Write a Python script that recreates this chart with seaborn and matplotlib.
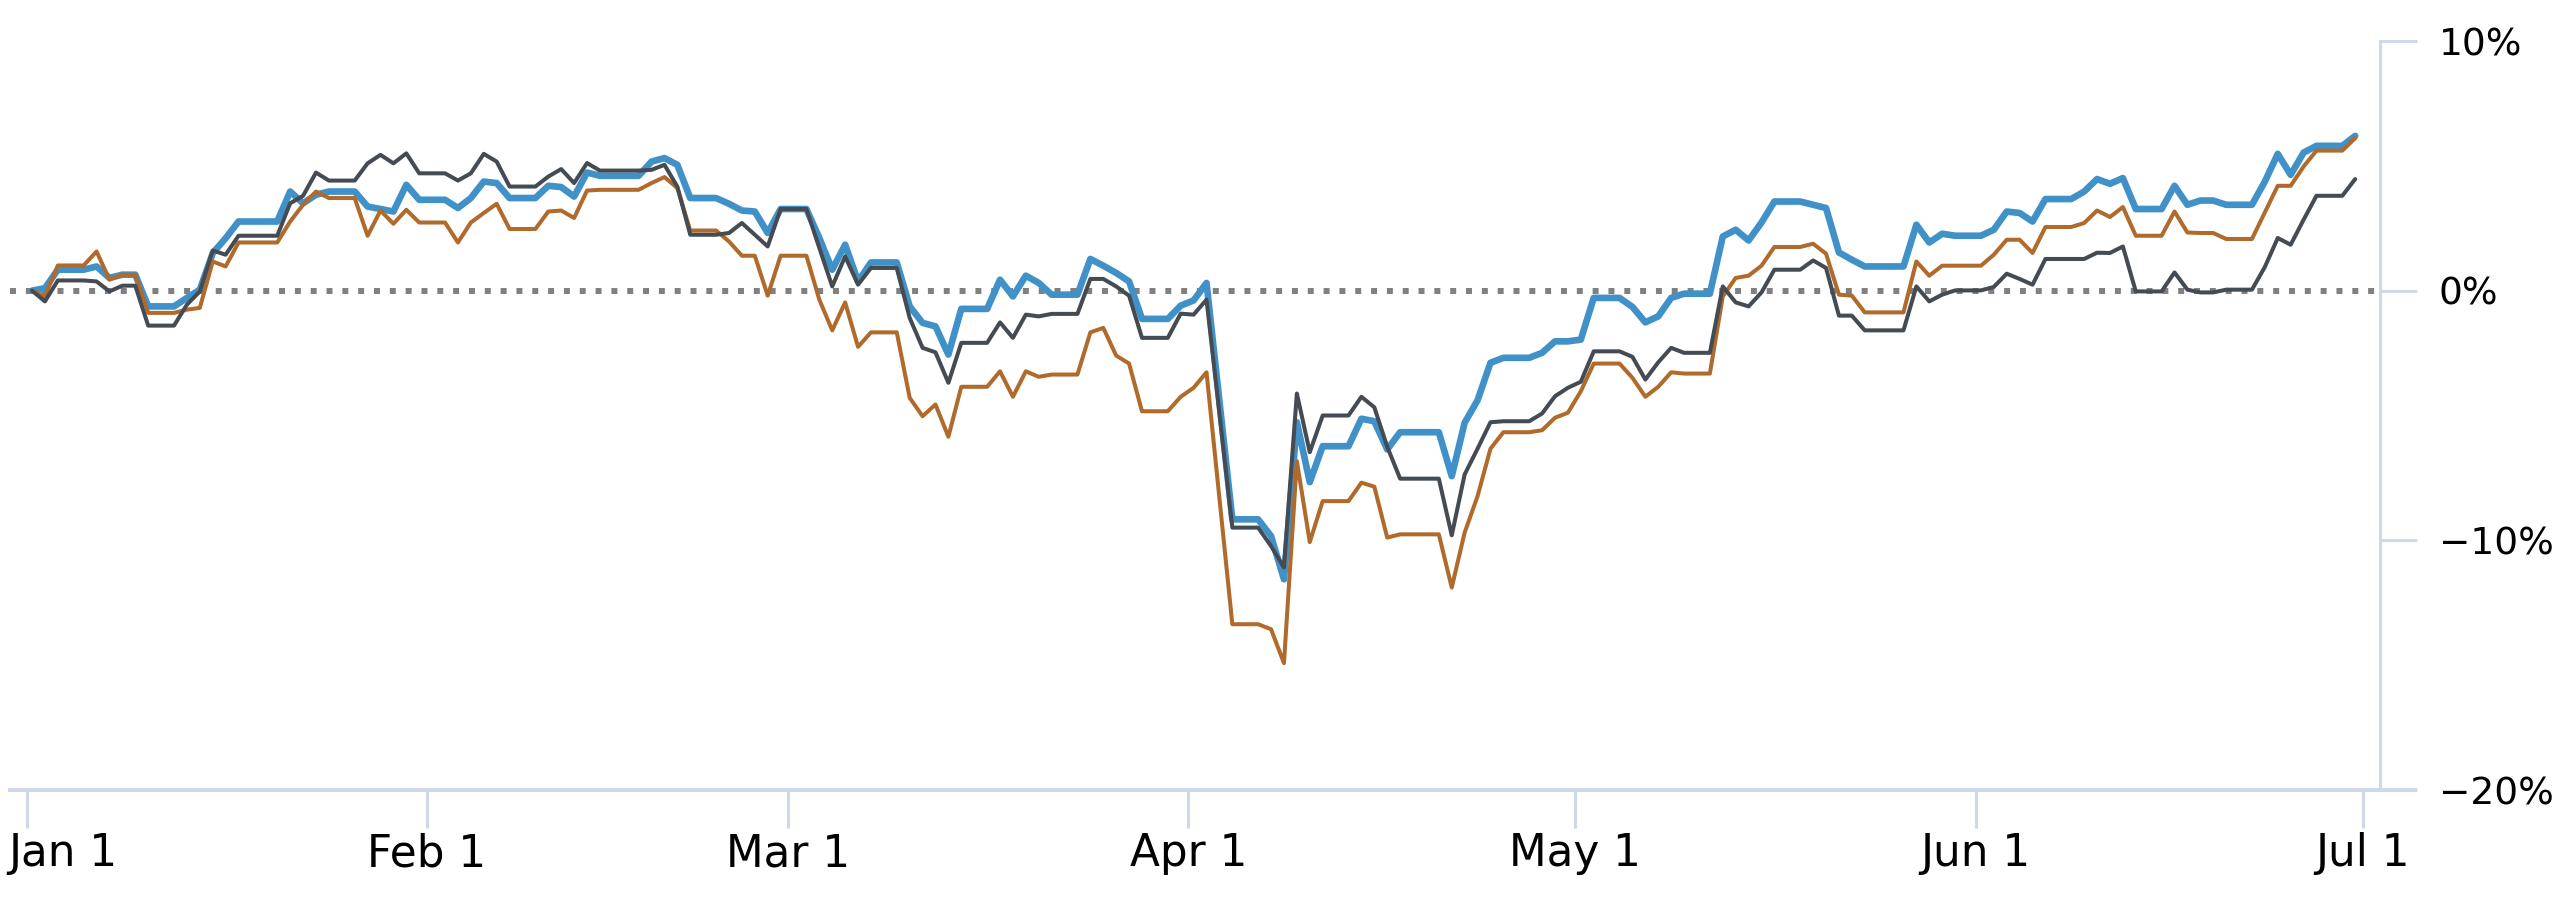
import matplotlib
matplotlib.use("Agg")
import matplotlib.pyplot as plt
import matplotlib.dates as mdates
from matplotlib.ticker import FuncFormatter
from matplotlib.transforms import ScaledTranslation
import pandas as pd
import seaborn as sns

sns.set_style("white")
plt.rcParams["font.family"] = ["DejaVu Sans"]

# market closed on these days -> value is carried over
holidays = ["2025-01-09", "2025-01-20", "2025-02-17", "2025-04-18", "2025-05-26", "2025-06-19"]

# % change since start of year, one value per trading day (Jan 1 = base)
blue_vals = [
    0.00, 0.10, 0.84, 0.97, 0.51, 0.64, -0.63, -0.29, 0.04, 1.50, 2.10, 2.77, 3.97, 3.50, 3.84, 3.97, 3.37, 3.27, 3.17, 4.24, 3.64,
    3.31, 3.71, 4.37, 4.31, 3.71, 4.20, 4.15, 3.77, 4.73, 4.60, 5.17, 5.31, 5.04, 3.71, 3.48, 3.21, 3.17, 2.31, 3.27,
    2.11, 0.84, 1.84, 0.37, 1.13, -0.63, -1.29, -1.43, -2.56, -0.73, 0.44, -0.23, 0.60, 0.31, -0.16, 1.27, 1.00, 0.71, 0.37, -1.13, -0.60,
    -0.39, 0.31, -4.43, -9.16, -9.83, -11.56, -5.27, -7.67, -6.23, -5.13, -5.23, -6.36, -5.67, -7.43, -5.29, -4.39, -2.89, -2.69, -2.49, -2.03, -2.03,
    -1.96, -0.29, -0.65, -1.27, -1.03, -0.29, -0.12, 2.17, 2.44, 2.01, 2.73, 3.57, 3.44, 3.31, 1.53, 1.24, 0.97, 2.64, 1.93, 2.28, 2.20,
    2.44, 3.17, 3.11, 2.77, 3.67, 3.97, 4.47, 4.28, 4.51, 3.27, 4.20, 3.44, 3.61, 3.44, 4.37, 5.48, 4.64, 5.53, 5.80, 6.20,
]
orange_vals = [
    0.00, -0.23, 1.01, 1.57, 0.44, 0.64, -0.89, -0.76, -0.69, 1.17, 0.97, 1.93, 2.77, 3.44, 3.97, 3.71, 2.20, 3.21, 2.68, 3.24, 2.73,
    1.93, 2.73, 3.11, 3.48, 2.47, 3.17, 3.21, 2.91, 4.01, 4.04, 4.31, 4.55, 4.11, 2.41, 1.97, 1.40, 1.40, -0.20, 1.40,
    -0.36, -1.59, -0.47, -2.25, -1.67, -4.29, -5.03, -4.56, -5.85, -3.85, -3.23, -4.25, -3.23, -3.45, -3.36, -1.67, -1.49, -2.60, -2.92, -4.83, -4.25,
    -3.89, -3.27, -8.31, -13.36, -13.56, -14.92, -6.83, -10.07, -8.43, -7.69, -7.85, -9.89, -9.76, -11.89, -9.69, -8.23, -6.33, -5.67, -5.59, -5.09, -4.89,
    -4.03, -2.92, -3.49, -4.25, -3.85, -3.27, -3.32, -0.23, 0.51, 0.60, 1.00, 1.75, 1.88, 1.48, -0.16, -0.20, -0.87, 1.17, 0.60, 1.00, 1.00,
    1.44, 2.04, 2.04, 1.51, 2.55, 2.71, 3.21, 2.95, 3.35, 2.20, 3.17, 2.33, 2.31, 2.07, 3.13, 4.20, 4.20, 4.97, 5.61, 6.11,
]
gray_vals = [
    0.00, -0.43, 0.41, 0.37, -0.03, 0.20, -1.40, -0.56, -0.03, 1.61, 1.44, 2.20, 3.50, 3.80, 4.73, 4.41, 5.10, 5.44, 5.10, 5.50, 4.70,
    4.41, 4.70, 5.48, 5.17, 4.17, 4.57, 4.87, 4.31, 5.11, 4.81, 4.84, 5.04, 4.17, 2.24, 2.31, 2.71, 2.24, 1.77, 3.27,
    1.71, 0.17, 1.37, 0.24, 0.91, -1.09, -2.29, -2.47, -3.69, -2.09, -1.27, -1.89, -0.96, -1.03, -0.93, 0.47, 0.47, 0.17, -0.20, -1.89, -0.92,
    -0.96, -0.36, -4.92, -9.49, -10.23, -11.09, -4.12, -6.47, -5.00, -4.25, -4.67, -6.25, -7.53, -9.80, -7.36, -6.33, -5.27, -5.23, -4.92, -4.23, -3.89,
    -3.65, -2.43, -2.65, -3.56, -2.87, -2.29, -2.49, 0.17, -0.47, -0.63, -0.07, 0.84, 1.21, 0.91, -1.00, -1.00, -1.59, 0.17, -0.43, -0.16, 0.01,
    0.15, 0.68, 0.47, 0.24, 1.27, 1.27, 1.52, 1.51, 1.77, -0.03, 0.73, 0.04, -0.07, 0.04, 0.95, 2.11, 1.84, 2.84, 3.80, 4.47,
]

y_ticks = [-20, -10, 0, 10]
month_ticks = pd.date_range("2025-01-01", "2025-07-01", freq="MS")
month_labels = [f"{d:%b} {d.day}" for d in month_ticks]

days = pd.bdate_range("2025-01-01", "2025-06-30", freq="C", holidays=holidays)
df = pd.DataFrame({"blue": blue_vals, "orange": orange_vals, "gray": gray_vals}, index=days)
# calendar days, weekends and holidays keep the last close
df = df.reindex(pd.date_range("2025-01-01", "2025-06-30")).ffill()
df.index = df.index + pd.Timedelta(hours=10)
df.index.name = "date"
df = df.reset_index()

W, H = 2560, 905
fig = plt.figure(figsize=(W / 100, H / 100), dpi=100)
ax = fig.add_axes([10 / W, 115 / H, 2405 / W, 749 / H])

axis_col = "#cfd8ea"
jan1 = pd.Timestamp("2025-01-01")
x0 = jan1 - pd.Timedelta(days=1.29)
x1 = jan1 + pd.Timedelta(days=185.05)
yaxis_at = pd.Timestamp("2025-07-01") + pd.Timedelta(days=1.32)

ax.axhline(0, xmin=0, xmax=(yaxis_at - x0) / (x1 - x0), color="#808080",
           lw=4.3, ls=(0, (1, 1.65)), zorder=1)

sns.lineplot(data=df, x="date", y="blue", color="#4191c9", lw=4.8, estimator=None, ax=ax, zorder=2)
sns.lineplot(data=df, x="date", y="orange", color="#b06a2b", lw=2.9, estimator=None, ax=ax, zorder=3)
sns.lineplot(data=df, x="date", y="gray", color="#444b53", lw=2.9, estimator=None, ax=ax, zorder=4)

ax.set_xlim(x0, x1)
ax.set_ylim(-20, 10)
ax.set_xlabel("")
ax.set_ylabel("")

ax.spines["top"].set_visible(False)
ax.spines["left"].set_visible(False)
ax.spines["bottom"].set_color(axis_col)
ax.spines["bottom"].set_linewidth(2.9)
ax.spines["right"].set_position(("data", mdates.date2num(yaxis_at)))
ax.spines["right"].set_color(axis_col)
ax.spines["right"].set_linewidth(2.2)

ax.yaxis.tick_right()
ax.set_yticks(y_ticks)
ax.yaxis.set_major_formatter(FuncFormatter(lambda v, _: f"{v:.0f}%".replace("-", "\u2212")))
ax.tick_params(axis="y", right=True, direction="out", length=26.6, width=2.2, color=axis_col,
               pad=16, labelsize=27, labelcolor="black")

ax.set_xticks(month_ticks)
ax.set_xticklabels(month_labels)
ax.tick_params(axis="x", bottom=True, direction="out", length=27.4, width=2.2, color=axis_col,
               pad=3, labelsize=31.5, labelcolor="black")

# first label is pushed right so it stays inside the canvas
first = ax.get_xticklabels()[0]
first.set_ha("left")
first.set_transform(first.get_transform() + ScaledTranslation(-0.187, 0, fig.dpi_scale_trans))

fig.savefig("out.png", dpi=100, facecolor="white")
